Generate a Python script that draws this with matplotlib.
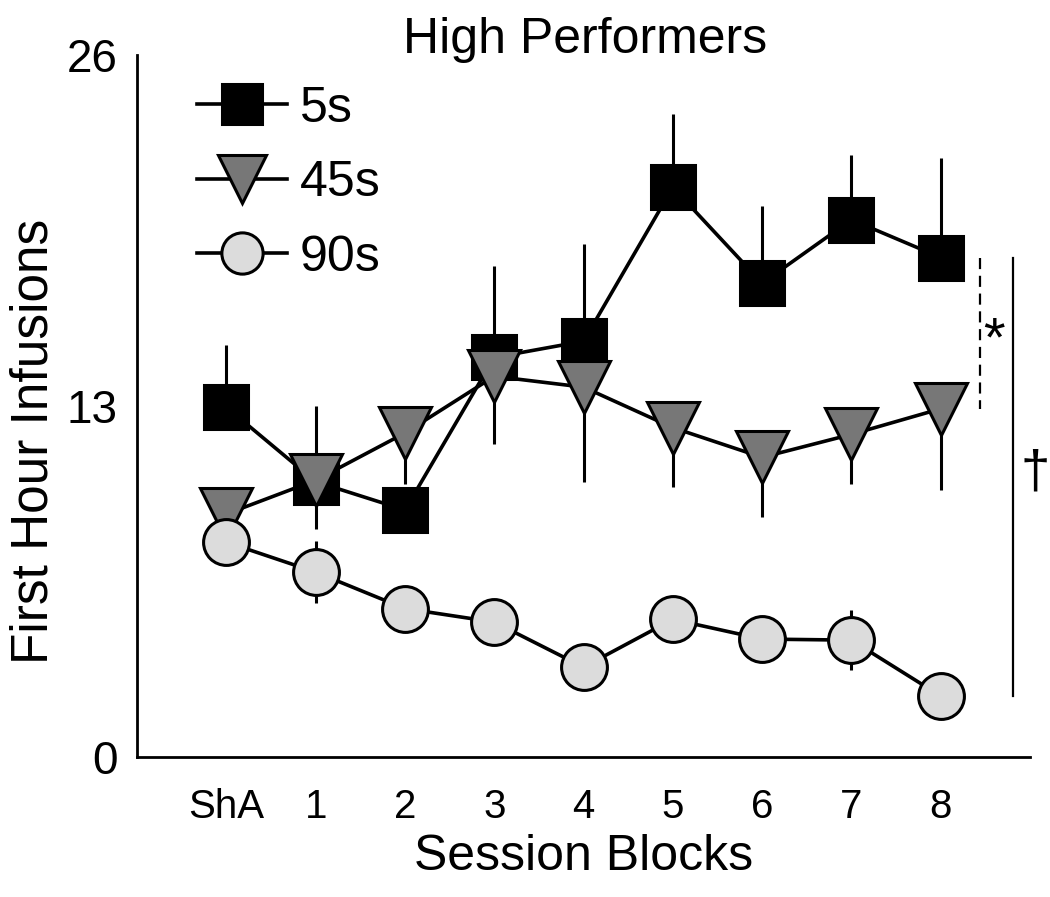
import matplotlib
matplotlib.use('Agg')
import matplotlib.pyplot as plt

blocks = ['ShA', '1', '2', '3', '4', '5', '6', '7', '8']
x = list(range(len(blocks)))

# first hour infusions, mean and error (one-sided for 5s/45s as drawn)
mean_5s = [12.96, 10.2, 9.15, 14.8, 15.4, 21.1, 17.55, 19.9, 18.5]
err_5s = [2.3, 2.8, 0.8, 3.4, 3.6, 2.7, 2.85, 2.4, 3.7]
mean_45s = [9.0, 10.25, 12.0, 14.1, 13.7, 12.2, 11.1, 11.95, 12.9]
err_45s = [0.0, 1.8, 1.9, 2.5, 3.5, 2.2, 2.2, 1.85, 3.0]
mean_90s = [7.96, 6.85, 5.5, 5.0, 3.33, 5.1, 4.37, 4.33, 2.26]
err_90s = [0.3, 1.15, 0.3, 0.3, 0.3, 0.3, 0.3, 1.1, 0.3]

family = ['Liberation Sans', 'DejaVu Sans']
plt.rcParams['font.family'] = family

fig = plt.figure(figsize=(10.5, 8.97), dpi=100)
ax = fig.add_axes([0.1305, 0.156, 0.8505, 0.7827])

lw = 2.6
mew = 2.2
zero = [0] * len(x)

ax.errorbar(x, mean_5s, yerr=[zero, err_5s], fmt='none', ecolor='black', elinewidth=2.2, zorder=1)
ax.plot(x, mean_5s, '-s', color='black', mfc='black', mec='black', ms=32, lw=lw, mew=mew,
        label='5s', zorder=2)
ax.errorbar(x, mean_45s, yerr=[err_45s, zero], fmt='none', ecolor='black', elinewidth=2.2, zorder=3)
ax.plot(x, mean_45s, '-v', color='black', mfc='#777777', mec='black', ms=38, lw=lw, mew=mew,
        label='45s', zorder=4)
ax.errorbar(x, mean_90s, yerr=err_90s, fmt='none', ecolor='black', elinewidth=2.2, zorder=5)
ax.plot(x, mean_90s, '-o', color='black', mfc='#dcdcdc', mec='black', ms=33, lw=lw, mew=mew,
        label='90s', zorder=6)

# significance markers
ax.plot([8.44, 8.44], [mean_5s[-1], mean_45s[-1]], '--', color='black', lw=1.6, dashes=(5, 3),
        clip_on=False)
ax.plot([8.81, 8.81], [mean_5s[-1], mean_90s[-1]], '-', color='black', lw=1.6, clip_on=False)
ax.text(8.6, 15.4, '*', fontsize=40, ha='center', va='center')
ax.text(9.06, 10.5, '†', fontsize=38, ha='center', va='center', clip_on=False)

ax.set_xlim(-1, 9)
ax.set_ylim(0, 26)
ax.set_yticks([0, 13, 26])
ax.set_xticks(x)
ax.set_xticklabels(blocks)
ax.tick_params(axis='y', length=0, pad=14, labelsize=33)
ax.tick_params(axis='x', length=0, pad=22, labelsize=29)
for s in ['top', 'right']:
    ax.spines[s].set_visible(False)
for s in ['left', 'bottom']:
    ax.spines[s].set_linewidth(2)

ax.set_ylabel('First Hour Infusions', fontsize=37)
ax.yaxis.set_label_coords(-0.088, 0.45)
ax.set_xlabel('Session Blocks', fontsize=36, labelpad=6)
fig.text(0.557, 0.955, 'High Performers', fontsize=36, ha='center', va='center')

leg = ax.legend(loc='upper left', bbox_to_anchor=(0.017, 1.02), frameon=False, fontsize=36,
                handlelength=1.8, labelspacing=0.57, handletextpad=0.25, markerscale=0.9)

fig.savefig('out.png', dpi=100)
